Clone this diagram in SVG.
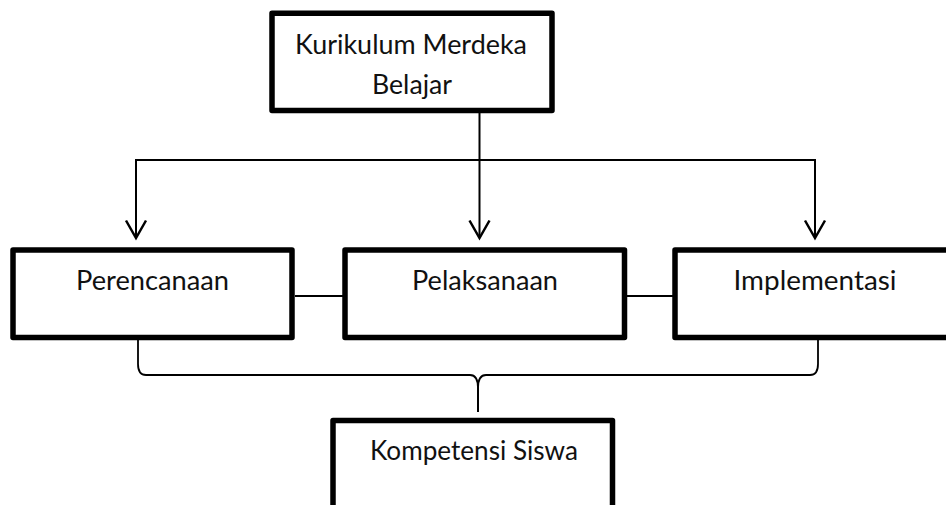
<svg xmlns="http://www.w3.org/2000/svg" width="946" height="505" viewBox="0 0 946 505">
<defs>
<style>
.box{fill:#fff;stroke:#000;stroke-width:5.5;stroke-linejoin:round}
.lbl{font-family:Lato,"Open Sans","Liberation Sans",sans-serif;font-size:26px;fill:#111;text-anchor:middle}
.ln{fill:none;stroke:#000;stroke-width:2}
.br{fill:none;stroke:#000;stroke-width:1.8}
</style>
<marker id="arr" markerUnits="userSpaceOnUse" markerWidth="40" markerHeight="40" refX="0" refY="0" orient="auto" overflow="visible">
<path d="M-17.5,-10 L0,0 L-17.5,10" fill="none" stroke="#000" stroke-width="2.5" stroke-linejoin="miter"/>
</marker>
</defs>
<rect width="946" height="505" fill="#fff"/>
<g id="connectors">
<line class="ln" x1="479.5" y1="113" x2="479.5" y2="238" marker-end="url(#arr)"/>
<polyline class="ln" points="136,238 136,160 815,160 815,238"/>
<line class="ln" x1="136" y1="200" x2="136" y2="238" marker-end="url(#arr)"/>
<line class="ln" x1="815" y1="200" x2="815" y2="238" marker-end="url(#arr)"/>
<line class="ln" x1="295" y1="296" x2="343" y2="296"/>
<line class="ln" x1="627" y1="296" x2="673" y2="296"/>
<path class="br" d="M138,339 L138,364 Q138,375 146,375 L470,375 Q478,375 478,388 L478,412"/>
<path class="br" d="M478,412 L478,388 Q478,375 486,375 L810,375 Q818,375 818,364 L818,339"/>
</g>
<g id="node-kurikulum">
<rect class="box" x="272" y="13.3" width="280" height="97.2"/>
<text class="lbl" x="411" y="53.5" textLength="232" lengthAdjust="spacingAndGlyphs">Kurikulum Merdeka</text>
<text class="lbl" x="412" y="94" textLength="80" lengthAdjust="spacingAndGlyphs">Belajar</text>
</g>
<g id="node-perencanaan">
<rect class="box" x="13" y="250" width="279" height="87.5"/>
<text class="lbl" x="152.5" y="290" textLength="153" lengthAdjust="spacingAndGlyphs">Perencanaan</text>
</g>
<g id="node-pelaksanaan">
<rect class="box" x="345" y="250" width="279.5" height="87.5"/>
<text class="lbl" x="485" y="290" textLength="146" lengthAdjust="spacingAndGlyphs">Pelaksanaan</text>
</g>
<g id="node-implementasi">
<rect class="box" x="675" y="250" width="280" height="87.5"/>
<text class="lbl" x="815" y="290" textLength="163" lengthAdjust="spacingAndGlyphs">Implementasi</text>
</g>
<g id="node-kompetensi">
<rect class="box" x="333" y="420.5" width="279.5" height="88"/>
<text class="lbl" x="474" y="460" textLength="208" lengthAdjust="spacingAndGlyphs">Kompetensi Siswa</text>
</g>
</svg>
